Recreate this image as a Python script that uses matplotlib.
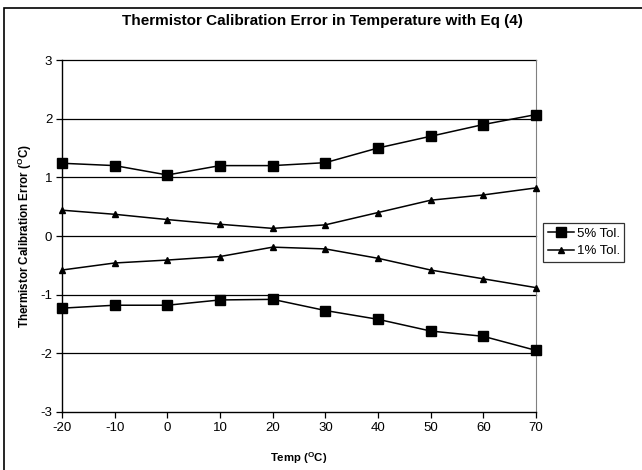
import matplotlib
matplotlib.use("Agg")
import matplotlib.pyplot as plt
from matplotlib.patches import Rectangle
from matplotlib.lines import Line2D

plt.rcParams['font.family'] = ['Liberation Sans', 'DejaVu Sans']
plt.rcParams['axes.unicode_minus'] = False

temps = [-20, -10, 0, 10, 20, 30, 40, 50, 60, 70]
tol5_upper = [1.24, 1.20, 1.04, 1.20, 1.20, 1.25, 1.50, 1.70, 1.90, 2.07]
tol5_lower = [-1.23, -1.18, -1.18, -1.09, -1.08, -1.27, -1.42, -1.62, -1.71, -1.95]
tol1_upper = [0.44, 0.37, 0.28, 0.20, 0.13, 0.19, 0.40, 0.61, 0.70, 0.82]
tol1_lower = [-0.58, -0.46, -0.41, -0.35, -0.19, -0.22, -0.38, -0.58, -0.73, -0.88]
labels = ['5% Tol.', '1% Tol.']
yticks = [-3, -2, -1, 0, 1, 2, 3]
xticks = [-20, -10, 0, 10, 20, 30, 40, 50, 60, 70]

fig = plt.figure(figsize=(6.42, 4.70), dpi=100)
fig.patches.append(Rectangle((4/642, -0.2), 1.2, 1.2 - 8/470, transform=fig.transFigure,
                             fill=False, edgecolor='black', linewidth=1.2))
ax = fig.add_axes([62/642, 58/470, 474/642, 352/470])

for y in yticks[1:]:
    ax.axhline(y, color='black', linewidth=0.9, zorder=1)

ax.plot(temps, tol5_upper, color='black', marker='s', markersize=6.5, linewidth=1.1, zorder=3)
ax.plot(temps, tol5_lower, color='black', marker='s', markersize=6.5, linewidth=1.1, zorder=3)
ax.plot(temps, tol1_upper, color='black', marker='^', markersize=5, linewidth=1.1, zorder=3)
ax.plot(temps, tol1_lower, color='black', marker='^', markersize=5, linewidth=1.1, zorder=3)

ax.set_xlim(-20, 70)
ax.set_ylim(-3, 3)
ax.set_xticks(xticks)
ax.set_yticks(yticks)
ax.tick_params(axis='both', direction='out', length=4, width=0.9, labelsize=9.5, pad=3)
for s in ['left', 'bottom']:
    ax.spines[s].set_color('black')
    ax.spines[s].set_linewidth(1.0)
ax.spines['right'].set_color('#808080')
ax.spines['top'].set_visible(False)
for line in ax.lines:
    line.set_clip_on(False)

ax.set_xlabel(r'Temp ($^\mathregular{O}$C)', fontsize=8.2, fontweight='bold', labelpad=12)
ax.set_ylabel(r'Thermistor Calibration Error ($^\mathregular{O}$C)', fontsize=8.4,
              fontweight='bold')
ax.yaxis.set_label_coords(-28/474, 0.5)

fig.text(322/642, 1 - 21/470, 'Thermistor Calibration Error in Temperature with Eq (4)',
         ha='center', va='center', fontsize=11, fontweight='bold')

handles = [Line2D([], [], color='black', marker='s', markersize=6.5, linewidth=1.1),
           Line2D([], [], color='black', marker='^', markersize=5, linewidth=1.1)]
leg = fig.legend(handles, labels, loc='upper left', bbox_to_anchor=(543/642, 1 - 223/470),
                 fontsize=9.5, frameon=True, fancybox=False, handlelength=2.0,
                 handletextpad=0.2, borderpad=0.35, labelspacing=0.4, borderaxespad=0)
leg.get_frame().set_edgecolor('black')
leg.get_frame().set_linewidth(0.9)

fig.savefig('out.png', dpi=100)
